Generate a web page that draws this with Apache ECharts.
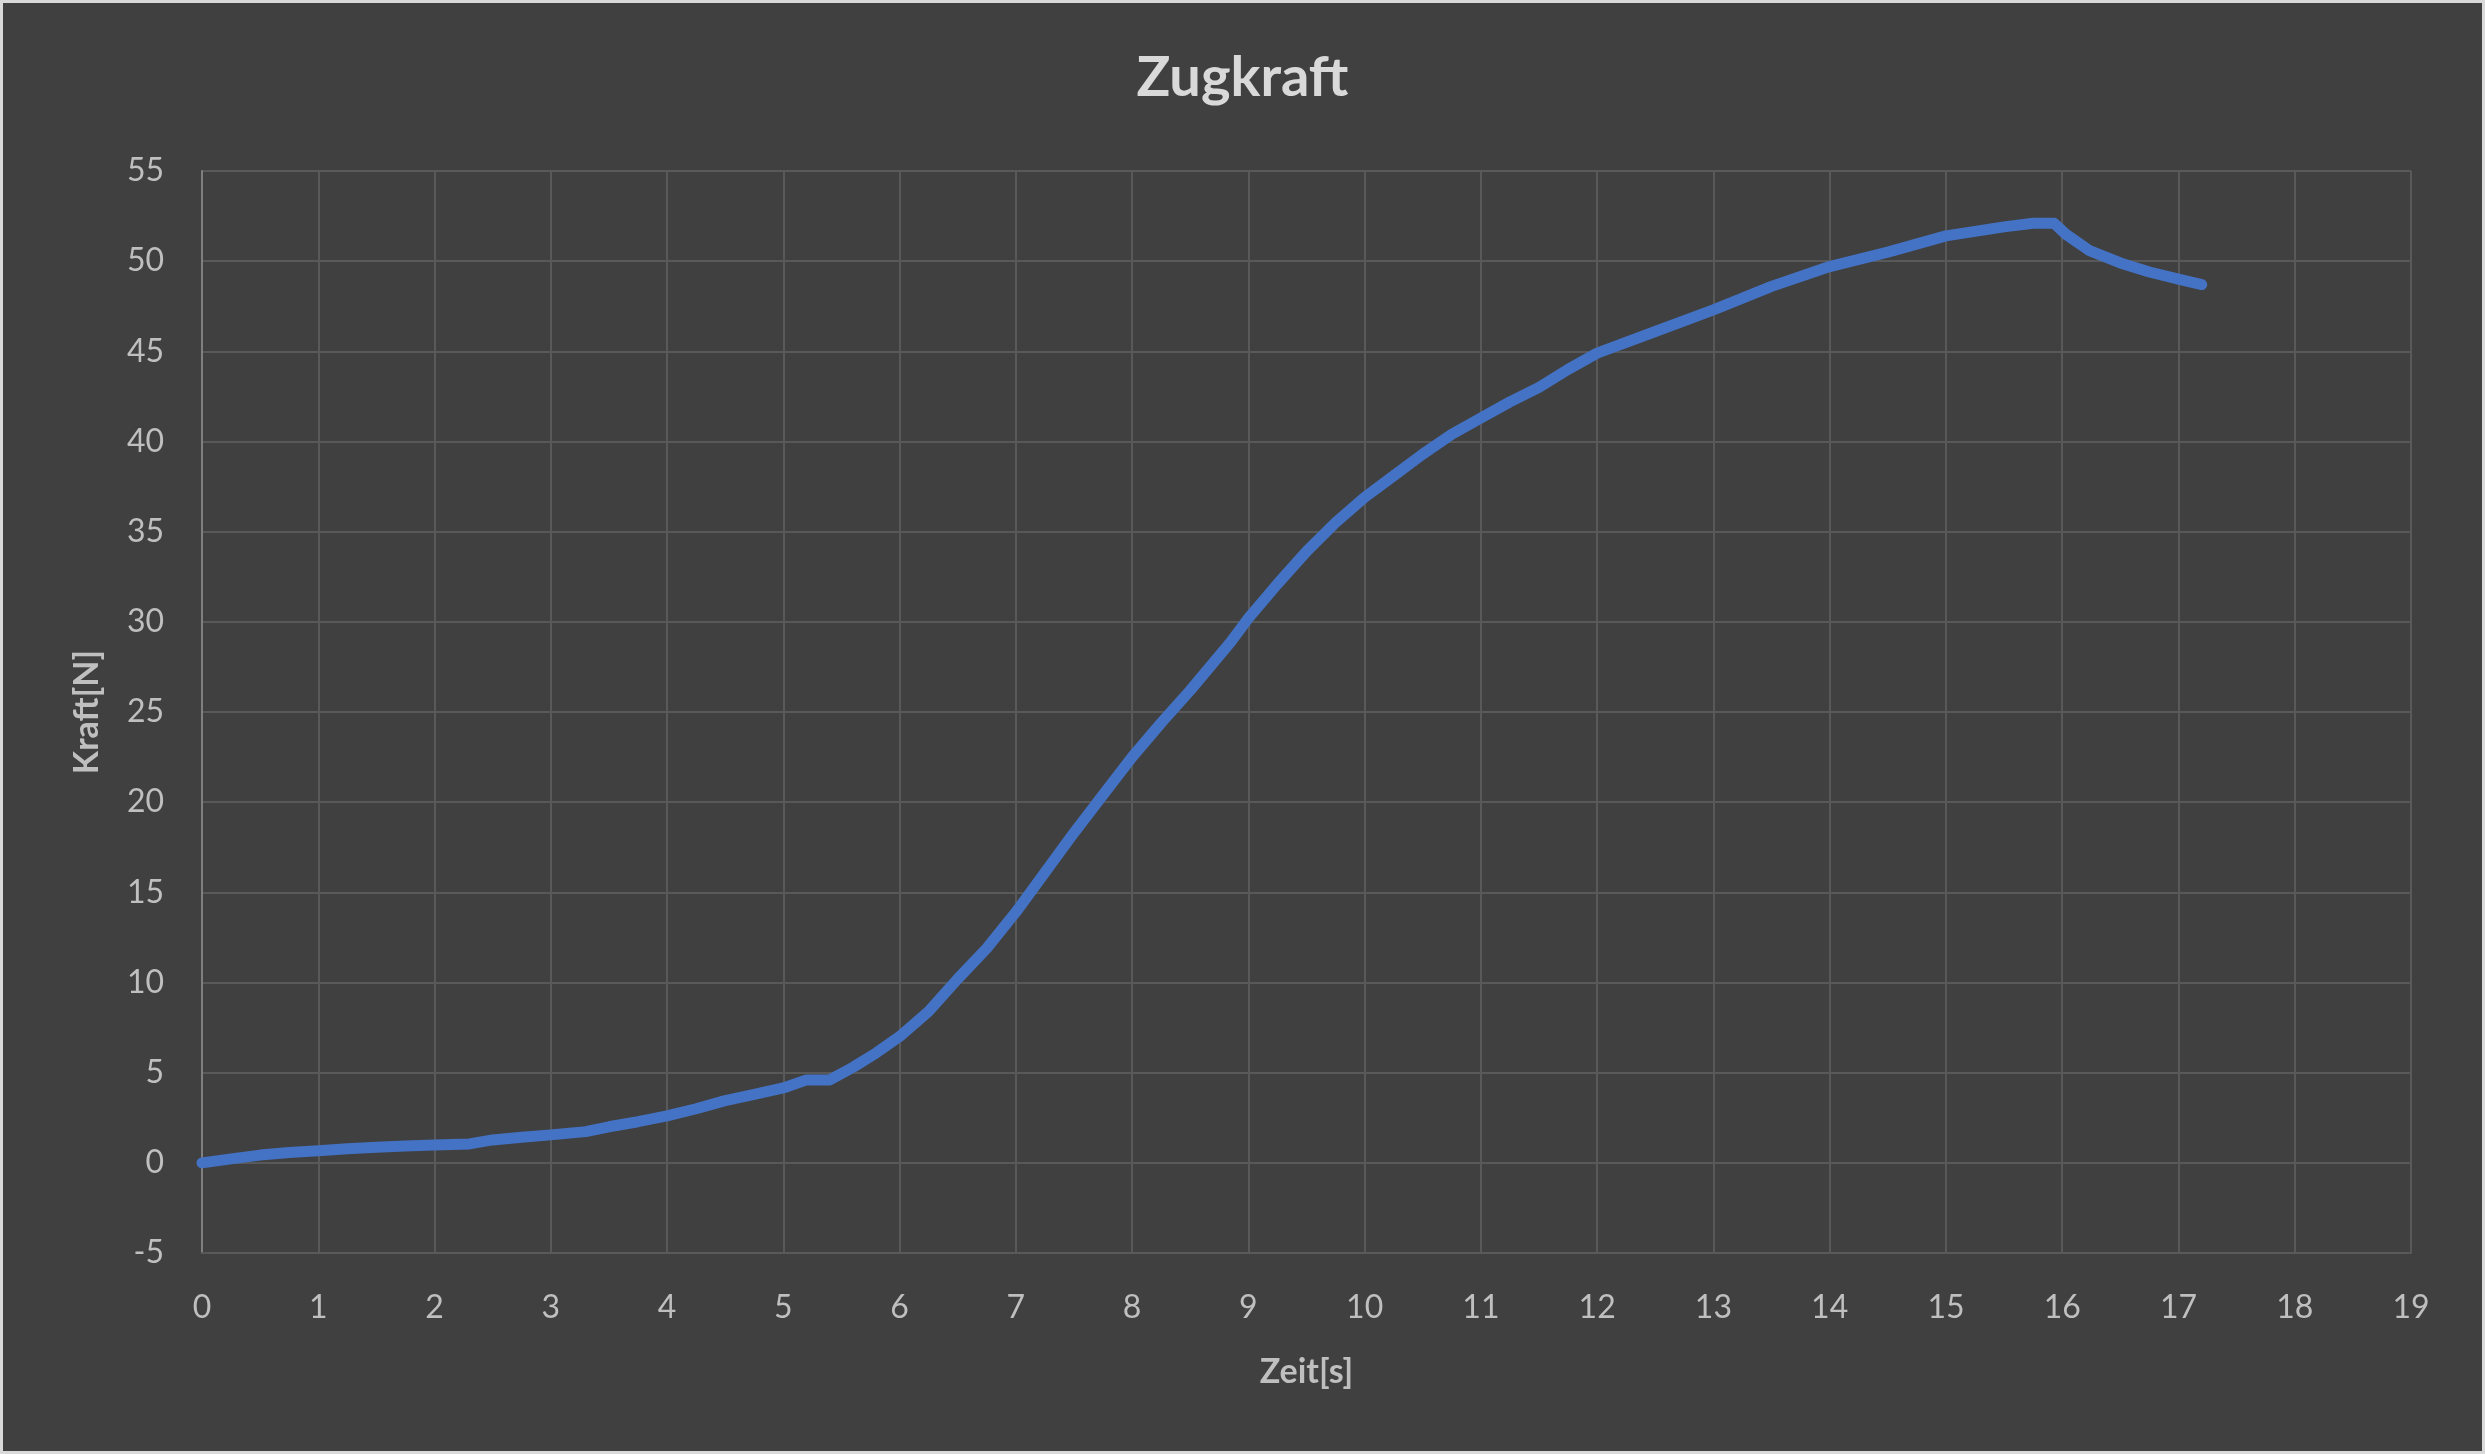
<!DOCTYPE html>
<html>
<head>
<meta charset="utf-8">
<script src="https://cdn.jsdelivr.net/npm/echarts@6/dist/echarts.min.js"></script>
<style>
html,body{margin:0;padding:0;background:#404040;}
#chart{position:absolute;left:0;top:0;width:2485px;height:1454px;}
#frame{position:absolute;left:0;top:0;width:2485px;height:1454px;box-sizing:border-box;border:3px solid #d9d9d9;pointer-events:none;}
</style>
</head>
<body>
<div id="chart"></div>
<div id="frame"></div>
<script>
const chartTitle = 'Zugkraft';
const xAxisTitle = 'Zeit[s]';
const yAxisTitle = 'Kraft[N]';
const timeValues = [0, 0.25, 0.5, 0.75, 1, 1.25, 1.5, 1.75, 2, 2.3, 2.5, 2.75, 3, 3.3, 3.5, 3.75, 4, 4.25, 4.5, 4.75, 5, 5.2, 5.4, 5.6, 5.8, 6, 6.25, 6.5, 6.75, 7, 7.25, 7.5, 7.75, 8, 8.25, 8.5, 8.85, 9, 9.25, 9.5, 9.75, 10, 10.25, 10.5, 10.75, 11, 11.25, 11.5, 11.75, 12, 12.5, 13, 13.5, 14, 14.5, 15, 15.5, 15.75, 15.93, 16.03, 16.23, 16.5, 16.75, 17, 17.2];
const forceValues = [0, 0.22, 0.43, 0.57, 0.67, 0.78, 0.87, 0.93, 0.99, 1.05, 1.27, 1.42, 1.55, 1.73, 2.0, 2.28, 2.6, 3.0, 3.45, 3.8, 4.15, 4.6, 4.6, 5.3, 6.1, 7.0, 8.4, 10.2, 11.9, 13.9, 16.1, 18.3, 20.4, 22.5, 24.4, 26.2, 28.9, 30.2, 32.1, 33.9, 35.5, 36.9, 38.1, 39.3, 40.4, 41.3, 42.2, 43.0, 44.0, 44.9, 46.1, 47.3, 48.6, 49.7, 50.5, 51.4, 51.9, 52.1, 52.1, 51.5, 50.6, 49.9, 49.4, 49.0, 48.7];

const seriesData = timeValues.map((t, i) => [t, forceValues[i]]);
const font = 'Lato, "Open Sans", sans-serif';

const chart = echarts.init(document.getElementById('chart'), null, {renderer: 'canvas'});
chart.setOption({
  backgroundColor: '#404040',
  animation: false,
  title: {
    text: chartTitle,
    left: 'center',
    top: 45,
    textStyle: {color: '#d9d9d9', fontFamily: font, fontWeight: 'bold', fontSize: 56}
  },
  grid: {left: 202, right: 74, top: 171, bottom: 201},
  xAxis: {
    type: 'value',
    min: 0, max: 19, interval: 1,
    name: xAxisTitle,
    nameLocation: 'middle',
    nameGap: 102,
    nameTextStyle: {color: '#bfbfbf', fontFamily: font, fontWeight: 'bold', fontSize: 34},
    axisLine: {show: true, onZero: false, lineStyle: {color: '#595959', width: 2}},
    axisTick: {show: false},
    axisLabel: {color: '#bfbfbf', fontFamily: font, fontSize: 32, margin: 39},
    splitLine: {show: true, lineStyle: {color: '#595959', width: 2}}
  },
  yAxis: {
    type: 'value',
    min: -5, max: 55, interval: 5,
    name: yAxisTitle,
    nameLocation: 'middle',
    nameGap: 98,
    nameRotate: 90,
    nameTextStyle: {color: '#bfbfbf', fontFamily: font, fontWeight: 'bold', fontSize: 34},
    axisLine: {show: true, onZero: false, lineStyle: {color: '#808080', width: 2}},
    axisTick: {show: false},
    axisLabel: {color: '#bfbfbf', fontFamily: font, fontSize: 32, margin: 38},
    splitLine: {show: true, lineStyle: {color: '#595959', width: 2}}
  },
  series: [{
    type: 'line',
    data: seriesData,
    showSymbol: false,
    smooth: false,
    lineStyle: {color: '#4472c4', width: 11, cap: 'round', join: 'round'},
    z: 5
  }]
});
</script>
</body>
</html>
